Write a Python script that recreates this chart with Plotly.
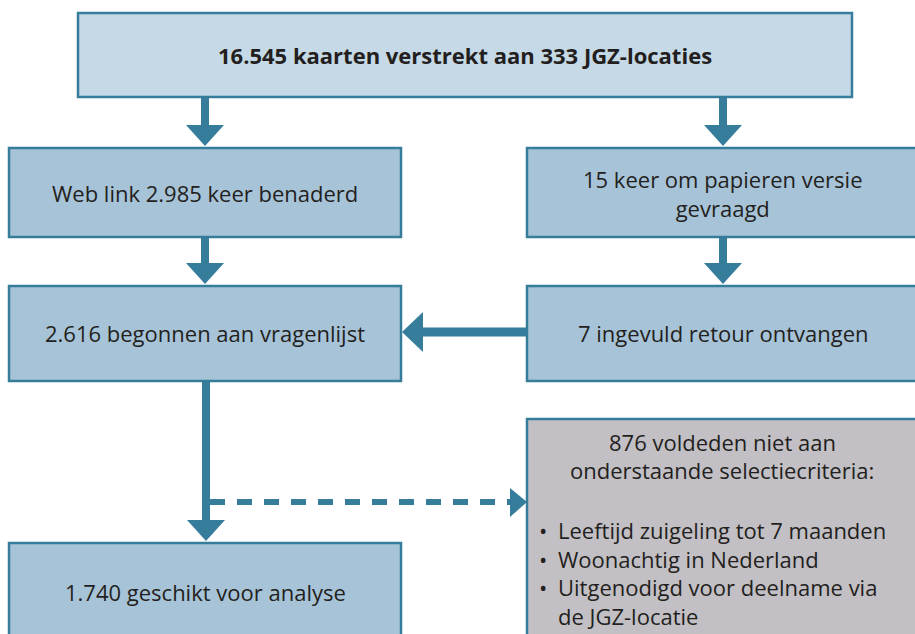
import plotly.graph_objects as go

# ---- content (texts of the flowchart) ----
box_labels = [
    "<b>16.545 kaarten verstrekt aan 333 JGZ-locaties</b>",
    "Web link 2.985 keer benaderd",
    "15 keer om papieren versie<br>gevraagd",
    "2.616 begonnen aan vragenlijst",
    "7 ingevuld retour ontvangen",
    "1.740 geschikt voor analyse",
]
excl_header = ["876 voldeden niet aan", "onderstaande selectiecriteria:"]
excl_bullets = ["Leeftijd zuigeling tot 7 maanden", "Woonachtig in Nederland",
                "Uitgenodigd voor deelname via", "de JGZ-locatie"]

# ---- layout / style ----
W, H = 915, 634
BORDER = "#367C9B"
ARROW = "#367C9B"
FILL_TOP = "#C6D9E6"
FILL = "#A7C3D7"
FILL_GREY = "#C2C0C4"
TXT = "#231F20"
FONT = "Open Sans"
FS = 22
FS_TOP = 22

# boxes: x0, y0, x1, y1, fill
boxes = [
    (78, 13, 852, 97, FILL_TOP),
    (9, 148, 401, 237, FILL),
    (527, 148, 922, 237, FILL),
    (9, 286, 401, 381, FILL),
    (527, 286, 922, 381, FILL),
    (9, 543, 401, 650, FILL),
]
grey_box = (527, 419, 922, 650)
text_y = [55, 193, 193, 333, 333, 592]

shapes = []
annos = []
for (x0, y0, x1, y1, fc) in boxes + [grey_box + (FILL_GREY,)]:
    shapes.append(dict(type="rect", xref="x", yref="y", x0=x0, y0=y0, x1=x1, y1=y1,
                       fillcolor=fc, line=dict(color=BORDER, width=2.5), layer="below"))

for k, (lab, (x0, y0, x1, y1, fc), ty) in enumerate(zip(box_labels, boxes, text_y)):
    cx = (x0 + min(x1, 919)) / 2
    annos.append(dict(x=cx, y=ty, xref="x", yref="y", text=lab, showarrow=False,
                      font=dict(family=FONT, size=FS_TOP if k == 0 else FS, color=TXT),
                      align="center", xanchor="center", yanchor="middle"))

# header of grey box
for i, t in enumerate(excl_header):
    annos.append(dict(x=722, y=442 + i * 28, xref="x", yref="y", text=t, showarrow=False,
                      font=dict(family=FONT, size=FS, color=TXT), xanchor="center", yanchor="middle"))
for i, t in enumerate(excl_bullets):
    y = 530 + i * 28.5
    if i < 3:
        annos.append(dict(x=537, y=y, xref="x", yref="y", text="•", showarrow=False,
                          font=dict(family=FONT, size=FS, color=TXT), xanchor="left", yanchor="middle"))
    annos.append(dict(x=556, y=y, xref="x", yref="y", text=t, showarrow=False,
                      font=dict(family=FONT, size=FS, color=TXT), xanchor="left", yanchor="middle"))


def down_arrow(x, y0, y1, hw=19, hl=21, sw=8):
    shapes.append(dict(type="rect", x0=x - sw / 2, x1=x + sw / 2, y0=y0, y1=y1 - hl + 1,
                       fillcolor=ARROW, line=dict(width=0)))
    shapes.append(dict(type="path", path=f"M {x-hw},{y1-hl} L {x+hw},{y1-hl} L {x},{y1} Z",
                       fillcolor=ARROW, line=dict(width=0)))


def left_arrow(y, x0, x1, hw=20, hl=21, sw=9):
    shapes.append(dict(type="rect", x0=x1 + hl - 1, x1=x0, y0=y - sw / 2, y1=y + sw / 2,
                       fillcolor=ARROW, line=dict(width=0)))
    shapes.append(dict(type="path", path=f"M {x1+hl},{y-hw} L {x1+hl},{y+hw} L {x1},{y} Z",
                       fillcolor=ARROW, line=dict(width=0)))


down_arrow(205, 97, 146)
down_arrow(723, 97, 146)
down_arrow(723, 237, 284)
down_arrow(205, 237, 284)
left_arrow(332, 527, 402)
down_arrow(206, 381, 541)

# dashed arrow to exclusion box
shapes.append(dict(type="line", x0=210, x1=512, y0=502, y1=502,
                   line=dict(color=ARROW, width=6, dash="15px,12px")))
shapes.append(dict(type="path", path="M 510,488 L 510,517 L 527,502 Z",
                   fillcolor=ARROW, line=dict(width=0)))

fig = go.Figure()
fig.add_trace(go.Scatter(x=[0, W], y=[0, H], mode="markers", marker=dict(opacity=0),
                         hoverinfo="skip", showlegend=False))
fig.update_layout(
    width=W, height=H, margin=dict(l=0, r=0, t=0, b=0),
    paper_bgcolor="white", plot_bgcolor="white",
    xaxis=dict(range=[0, W], visible=False, fixedrange=True),
    yaxis=dict(range=[H, 0], visible=False, fixedrange=True),
    shapes=shapes, annotations=annos, showlegend=False,
)
fig.write_html("out.html", config={"displayModeBar": False},
               post_script="document.body.style.margin='0';document.body.style.overflow='hidden';")
